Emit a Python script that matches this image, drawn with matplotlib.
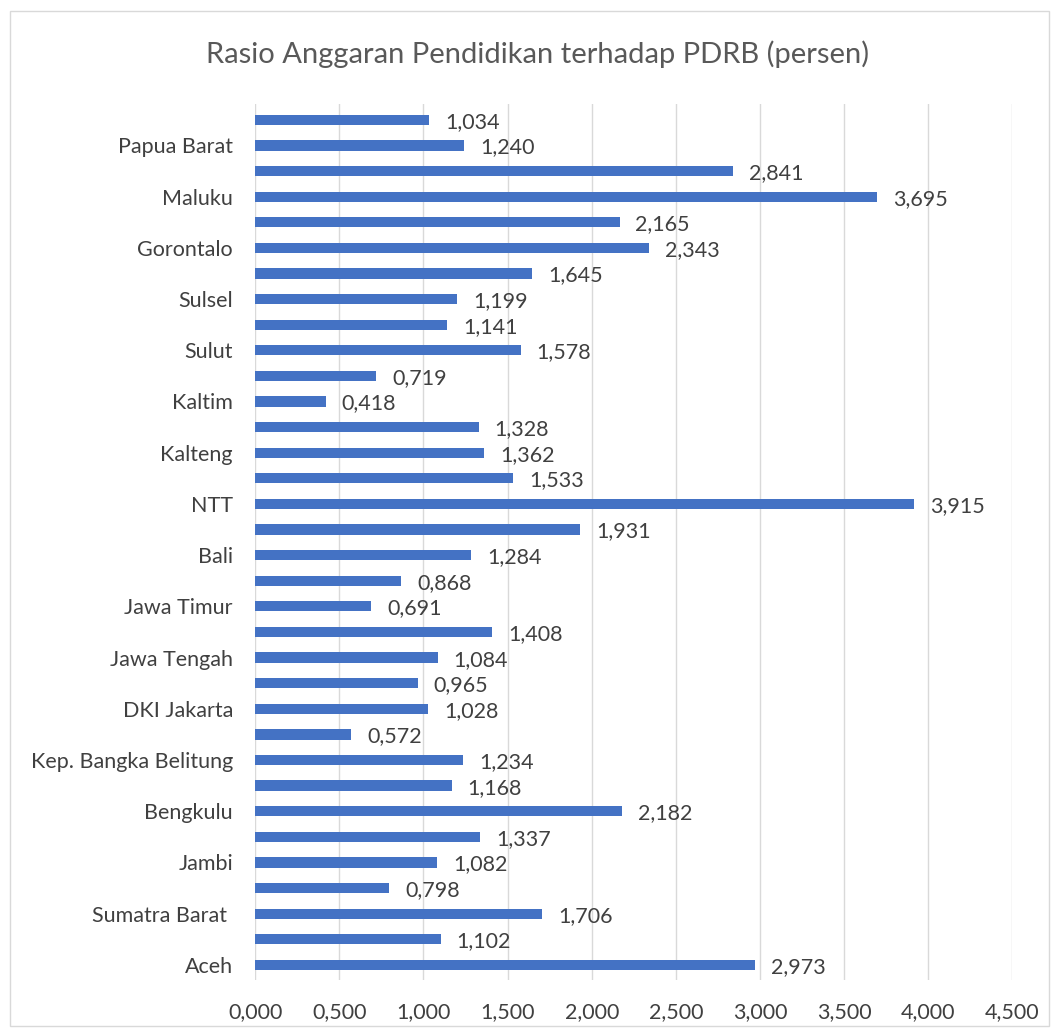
import matplotlib.pyplot as plt
from matplotlib.patches import Rectangle
from matplotlib.ticker import FuncFormatter

plt.rcParams['font.family'] = ['Lato', 'DejaVu Sans']

# provinces from bottom to top
provinces = ['Aceh', 'Sumatra Utara', 'Sumatra Barat ', 'Riau', 'Jambi', 'Sumsel',
             'Bengkulu', 'Lampung', 'Kep. Bangka Belitung', 'Kep. Riau', 'DKI Jakarta',
             'Jawa Barat', 'Jawa Tengah', 'DI Yogyakarta', 'Jawa Timur', 'Banten', 'Bali',
             'NTB', 'NTT', 'Kalbar', 'Kalteng', 'Kalsel', 'Kaltim', 'Kaltara', 'Sulut',
             'Sulteng', 'Sulsel', 'Sultra', 'Gorontalo', 'Sulbar', 'Maluku', 'Maluku Utara',
             'Papua Barat', 'Papua']
ratio = [2.973, 1.102, 1.706, 0.798, 1.082, 1.337, 2.182, 1.168, 1.234, 0.572, 1.028,
         0.965, 1.084, 1.408, 0.691, 0.868, 1.284, 1.931, 3.915, 1.533, 1.362, 1.328,
         0.418, 0.719, 1.578, 1.141, 1.199, 1.645, 2.343, 2.165, 3.695, 2.841, 1.240, 1.034]
x_ticks = [0, 0.5, 1, 1.5, 2, 2.5, 3, 3.5, 4, 4.5]

txt = '#404040'


def comma(v, pos=None):
    return f'{v:.3f}'.replace('.', ',')


fig = plt.figure(figsize=(10.59, 10.34), dpi=100)
ax = fig.add_axes([0.241, 0.052, 0.715, 0.847])

pos = list(range(len(provinces)))
ax.barh(pos, ratio, height=0.4, color='#4472C4', zorder=3)
for p, v in zip(pos, ratio):
    ax.text(v + 0.095, p - 0.08, comma(v), va='center', ha='left', fontsize=15.5, color=txt)

ax.set_xlim(0, 4.5)
ax.set_ylim(-0.6, len(provinces) - 0.4)
ax.set_xticks(x_ticks)
ax.xaxis.set_major_formatter(FuncFormatter(comma))
ax.set_yticks(pos[::2])
ax.set_yticklabels(provinces[::2])
ax.tick_params(axis='both', length=0, labelsize=15.5, labelcolor=txt)
ax.tick_params(axis='x', pad=16)
ax.tick_params(axis='y', pad=16)
ax.grid(axis='x', color='#D9D9D9', linewidth=1, zorder=0)
for s in ax.spines.values():
    s.set_visible(False)

fig.text(0.508, 0.948, 'Rasio Anggaran Pendidikan terhadap PDRB (persen)', ha='center',
         va='center', fontsize=21, color='#595959')
fig.patches.append(Rectangle((0.009, 0.008), 0.982, 0.981, transform=fig.transFigure,
                             fill=False, edgecolor='#D9D9D9', linewidth=1))

fig.savefig('out.png', dpi=100)
